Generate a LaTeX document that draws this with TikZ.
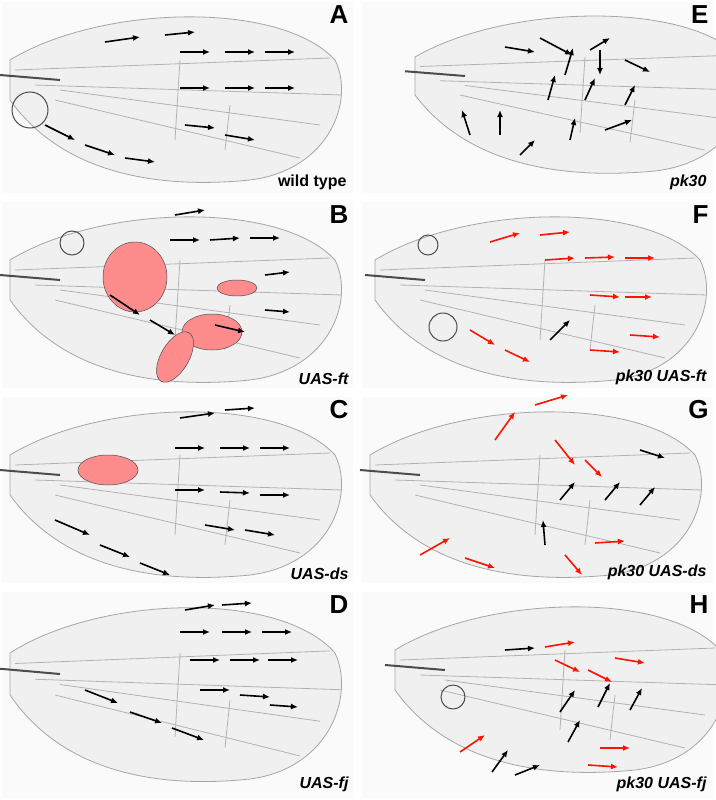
\documentclass[tikz,border=0pt]{standalone}
\usepackage{fontspec}
\setmainfont{Liberation Sans}
\usetikzlibrary{arrows.meta}
\begin{document}
\begin{tikzpicture}[x=1pt,y=-1pt,
  ba/.style={-{Latex[length=7pt,width=6pt]},line width=1.6pt,black},
  ra/.style={-{Latex[length=7pt,width=6pt]},line width=1.6pt,red!85!orange},
  blob/.style={fill=red!45,draw=black!70,line width=0.5pt},
  lett/.style={font=\bfseries\fontsize{26}{26}\selectfont,anchor=north east},
  geno/.style={font=\bfseries\itshape\fontsize{16}{16}\selectfont,anchor=south east},
  wingf/.style={fill=gray!12,draw=gray!70,line width=0.8pt},
  vein/.style={draw=gray!60,line width=0.8pt}]
\useasboundingbox (0,0) rectangle (715,800);
\fill[white] (0,0) rectangle (715,800);
\newcommand\wingat[3]{%
 \begin{scope}[shift={(#1,#2)},yscale=#3]
  \draw[wingf] (10,60) .. controls (100,5) and (280,0) .. (335,60) .. controls (355,100) and (330,170) .. (250,180) .. controls (150,190) and (60,170) .. (10,100) -- cycle;
  \draw[vein] (15,70) -- (330,58);
  \draw[vein] (35,85) -- (342,95);
  \draw[vein] (55,100) -- (300,158);
  \draw[vein] (60,90) -- (320,125);
  \draw[vein] (180,60) -- (175,140);
  \draw[vein] (230,105) -- (225,150);
  \draw[black!70,line width=2pt] (0,75) -- (60,80);
 \end{scope}}
\foreach \px in {0,360} {\foreach \py/\h in {0/195,200/190,395/190,590/210} {
  \fill[gray!4] (\px+2,\py+2) rectangle (\px+353,\py+\h-2);}}
\wingat{0}{0}{1}
\wingat{0}{200}{1}
\wingat{0}{395}{1}
\wingat{0}{590}{1.05}
\wingat{405}{0}{0.95}
\wingat{365}{200}{1}
\wingat{360}{395}{1}
\wingat{385}{590}{1}
% red blobs
\draw[blob] (135,277) ellipse (32 and 35);
\draw[blob] (237,288) ellipse (20 and 8);
\draw[blob] (212,332) ellipse (30 and 18);
\draw[blob,rotate around={60:(175,357)}] (175,357) ellipse (28 and 14);
\draw[blob] (108,470) ellipse (30 and 15);
\draw[black!70,line width=1pt] (30,110) circle (18);
\draw[black!70,line width=1pt] (72,243) circle (12);
\draw[black!70,line width=1pt] (428,245) circle (10);
\draw[black!70,line width=1pt] (443,327) circle (14);
\draw[black!70,line width=1pt] (453,697) circle (12);
% A
\foreach \a/\b/\c/\d in {105/42/140/37,165/35/195/32,180/52/210/52,225/52/255/52,265/52/295/52,180/88/210/88,225/88/255/88,265/88/295/88,185/125/215/128,225/135/255/140,45/125/75/140,85/145/115/155,125/158/155/162}
  {\coordinate (s) at (\a,\b); \coordinate (e) at (\c,\d); \draw[ba] (s) -- (e);}
% E
\foreach \a/\b/\c/\d in {505/47/535/52,540/38/572/55,590/50/610/38,600/50/600/75,565/75/573/48,625/60/650/72,548/100/555/75,585/100/595/78,625/105/635/85,470/135/462/110,500/135/500/110,520/155/535/140,570/140/575/118,605/130/632/120}
  {\coordinate (s) at (\a,\b); \coordinate (e) at (\c,\d); \draw[ba] (s) -- (e);}
% B
\foreach \a/\b/\c/\d in {175/215/205/210,170/240/200/240,210/240/240/238,250/238/280/238,265/275/290/272,110/295/140/315,150/320/175/335,215/325/245/332,265/310/290/312}
  {\coordinate (s) at (\a,\b); \coordinate (e) at (\c,\d); \draw[ba] (s) -- (e);}
% F
\foreach \a/\b/\c/\d in {490/242/520/233,540/235/570/232,545/260/575/258,585/258/615/257,625/258/655/258,590/295/620/297,625/297/652/297,470/330/495/345,505/350/530/362,590/350/620/352,630/335/660/337}
  {\coordinate (s) at (\a,\b); \coordinate (e) at (\c,\d); \draw[ra] (s) -- (e);}
\coordinate (s) at (550,340); \coordinate (e) at (570,320); \draw[ba] (s) -- (e);
% C
\foreach \a/\b/\c/\d in {180/418/215/413,225/410/255/408,175/448/205/448,220/448/250/448,260/448/290/448,175/490/205/490,220/492/250/493,260/495/290/495,205/525/235/530,245/530/275/535,55/520/90/535,100/545/130/557,140/563/170/575}
  {\coordinate (s) at (\a,\b); \coordinate (e) at (\c,\d); \draw[ba] (s) -- (e);}
% G
\foreach \a/\b/\c/\d in {495/440/515/412,535/405/568/395,555/440/575/465,585/460/602/477,420/555/450/538,465/558/495/568,565/555/582/575,595/543/625/541}
  {\coordinate (s) at (\a,\b); \coordinate (e) at (\c,\d); \draw[ra] (s) -- (e);}
\foreach \a/\b/\c/\d in {640/450/665/458,560/500/575/482,605/500/620/482,640/505/655/487,545/545/543/520}
  {\coordinate (s) at (\a,\b); \coordinate (e) at (\c,\d); \draw[ba] (s) -- (e);}
% D
\foreach \a/\b/\c/\d in {185/610/215/605,222/605/252/603,180/632/210/632,222/632/252/632,262/632/292/632,190/660/220/660,230/660/260/660,268/660/298/660,200/690/230/690,240/695/270/697,270/705/298/707,85/690/118/703,130/712/162/723,172/728/204/740}
  {\coordinate (s) at (\a,\b); \coordinate (e) at (\c,\d); \draw[ba] (s) -- (e);}
% H
\foreach \a/\b/\c/\d in {545/647/575/642,555/660/580/672,588/670/612/682,615/658/645/663,600/748/630/748,588/765/618/767,460/752/485/735}
  {\coordinate (s) at (\a,\b); \coordinate (e) at (\c,\d); \draw[ra] (s) -- (e);}
\foreach \a/\b/\c/\d in {505/650/535/648,560/712/575/690,598/707/610/683,630/710/642/688,492/772/508/750,515/775/540/765,568/742/580/720}
  {\coordinate (s) at (\a,\b); \coordinate (e) at (\c,\d); \draw[ba] (s) -- (e);}
% labels
\node[lett] (la) at (352,2) {A};
\node[lett] (lb) at (352,202) {B};
\node[lett] (lc) at (352,397) {C};
\node[lett] (ld) at (352,592) {D};
\node[lett] (le) at (712,2) {E};
\node[lett] (lf) at (712,202) {F};
\node[lett] (lg) at (712,397) {G};
\node[lett] (lh) at (712,592) {H};
\node[geno,font=\bfseries\fontsize{16}{16}\selectfont] (ga) at (350,193) {wild type};
\node[geno] (gb) at (352,388) {UAS-ft};
\node[geno] (gc) at (352,583) {UAS-ds};
\node[geno] (gd) at (352,795) {UAS-fj};
\node[geno] (ge) at (710,193) {pk30};
\node[geno] (gf) at (710,388) {pk30 UAS-ft};
\node[geno] (gg) at (710,583) {pk30 UAS-ds};
\node[geno] (gh) at (710,795) {pk30 UAS-fj};
\end{tikzpicture}
\end{document}
